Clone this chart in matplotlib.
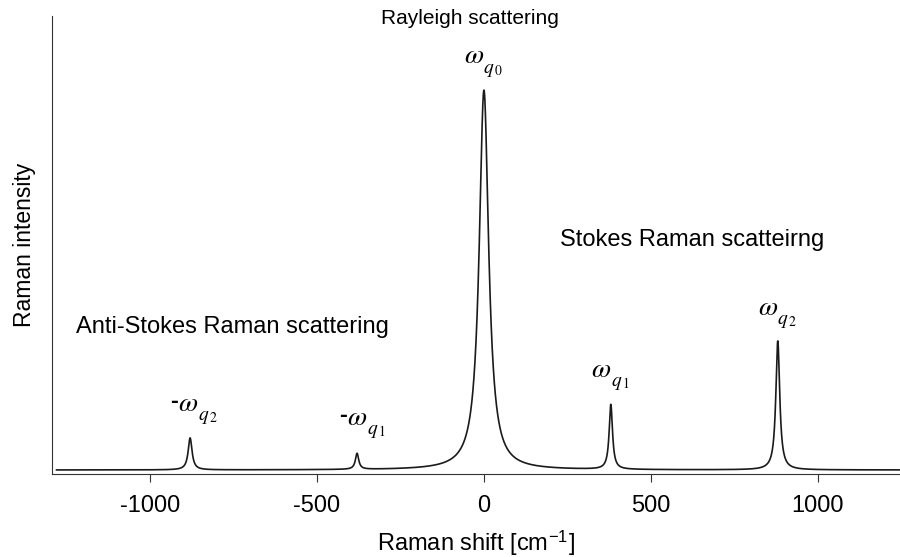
import numpy as np
import matplotlib.pyplot as plt

plt.rcParams['font.family'] = ['Liberation Sans', 'DejaVu Sans']
plt.rcParams['mathtext.fontset'] = 'stix'

# peak parameters of the spectrum: position [cm-1], height, half width
peak_pos = [-880, -380, 0, 380, 880]
peak_height = [32, 16, 380, 65, 129]
peak_hwhm = [7, 6, 17, 6, 7]

# peak labels: sign, phonon index, position of the omega
label_sign = ['-', '-', '', '', '']
label_index = ['2', '1', '0', '1', '2']
label_x = [-886, -380, -30, 350, 850]
label_y = [66, 52, 414, 100, 162]

x = np.linspace(-1280, 1280, 5000)
y = np.zeros_like(x)
for p, h, w in zip(peak_pos, peak_height, peak_hwhm):
    y += h * w**2 / ((x - p)**2 + w**2)

fig = plt.figure(figsize=(9, 5.57), dpi=100)
ax = fig.add_axes([0.058, 0.149, 0.942, 0.822])
ax.plot(x, y, color='#1a1a1a', lw=1.2)

ax.set_xlim(-1293, 1246)
ax.set_ylim(-4, 454)
ax.spines['top'].set_visible(False)
ax.spines['right'].set_visible(False)
ax.spines['left'].set_color('#333333')
ax.spines['bottom'].set_color('#333333')
ax.set_yticks([])
ax.set_xticks([-1000, -500, 0, 500, 1000])
ax.set_xticklabels(['-1000', '-500', '0', '500', '1000'])
ax.tick_params(axis='x', direction='out', length=6, labelsize=17, pad=9,
               color='#333333')
ax.set_xlabel(r'Raman shift [cm$^{\mathregular{-1}}$]', fontsize=17, labelpad=8)
ax.set_ylabel('Raman intensity', fontsize=16.5, labelpad=12)

ax.text(-42, 452, 'Rayleigh scattering', ha='center', va='center', fontsize=15)
ax.text(623, 230, 'Stokes Raman scatteirng', ha='center', va='center', fontsize=17)
ax.text(-754, 143, 'Anti-Stokes Raman scattering', ha='center', va='center', fontsize=17)

for s, n, lx, ly in zip(label_sign, label_index, label_x, label_y):
    ax.text(lx, ly, r'$\omega$', ha='center', va='center', fontsize=20)
    ax.annotate(r'$q_{\,%s}$' % n, xy=(lx, ly), xytext=(14, -10),
                textcoords='offset points', ha='center', va='center', fontsize=14)
    if s:
        ax.annotate(s, xy=(lx, ly), xytext=(-10, 2), textcoords='offset points',
                    ha='center', va='center', fontsize=17, fontweight='bold')

fig.savefig('out.png', dpi=100)
